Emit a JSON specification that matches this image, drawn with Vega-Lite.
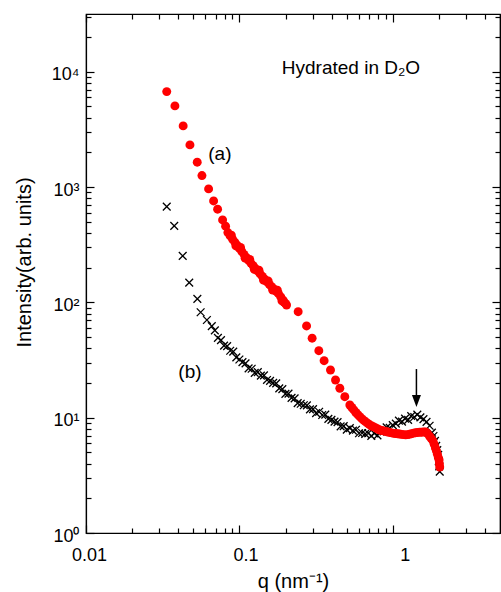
{
  "$schema": "https://vega.github.io/schema/vega-lite/v6.json",
  "width": 414,
  "height": 519,
  "autosize": "none",
  "padding": {"left": 86, "top": 14, "right": 1, "bottom": 59},
  "background": "white",
  "config": {
    "view": {"stroke": "black", "strokeWidth": 1.2},
    "font": "Liberation Sans",
    "axis": {
      "domainColor": "black", "domainWidth": 1.2, "tickColor": "black", "tickWidth": 1.2,
      "labelColor": "black", "labelFontSize": 18, "labelFont": "Liberation Sans",
      "titleColor": "black", "titleFontSize": 20, "titleFontWeight": "normal", "titleFont": "Liberation Sans",
      "grid": false, "labelOverlap": false, "labelFlush": false, "labelBound": false
    }
  },
  "datasets": {
    "a": [
      {"q":0.0336,"I":6717},{"q":0.0380,"I":5050},{"q":0.0430,"I":3388},{"q":0.0476,"I":2318},{"q":0.0531,"I":1641},
      {"q":0.0570,"I":1256},{"q":0.0630,"I":963},{"q":0.0679,"I":757},{"q":0.0721,"I":642},{"q":0.0777,"I":518},
      {"q":0.08128,"I":457.1},{"q":0.08414,"I":402.7},{"q":0.08710,"I":376.7},{"q":0.08861,"I":382.8},{"q":0.09016,"I":354.0},
      {"q":0.09333,"I":332.7},{"q":0.09495,"I":308.3},{"q":0.09661,"I":312.6},{"q":0.1,"I":294.4},{"q":0.10174,"I":299.2},
      {"q":0.10351,"I":277.3},{"q":0.10715,"I":260.6},{"q":0.10902,"I":241.5},{"q":0.11092,"I":245.5},{"q":0.11482,"I":231.2},
      {"q":0.11682,"I":235.5},{"q":0.11885,"I":218.8},{"q":0.12303,"I":207.5},{"q":0.12516,"I":192.8},{"q":0.12735,"I":196.3},
      {"q":0.13183,"I":186.2},{"q":0.13413,"I":189.7},{"q":0.13646,"I":176.6},{"q":0.14125,"I":167.5},{"q":0.14371,"I":155.6},
      {"q":0.14622,"I":158.9},{"q":0.15136,"I":150.7},{"q":0.15396,"I":153.5},{"q":0.15668,"I":143.2},{"q":0.16218,"I":136.8},
      {"q":0.16501,"I":127.6},{"q":0.16788,"I":130.6},{"q":0.17378,"I":124.7},{"q":0.17681,"I":127.6},{"q":0.17989,"I":118.9},
      {"q":0.18621,"I":111.4},{"q":0.18943,"I":103.0},{"q":0.19275,"I":104.5},{"q":0.195,"I":100.7},{"q":0.19953,"I":97.9},
      {"q":0.2030,"I":94.8},
      {"q":0.2416,"I":83.0},{"q":0.2741,"I":62.4},{"q":0.2980,"I":48.9},{"q":0.3295,"I":38.1},{"q":0.3567,"I":31.2},
      {"q":0.3926,"I":25.9},{"q":0.4233,"I":21.2},{"q":0.4516,"I":18.0},{"q":0.4867,"I":15.2},{"q":0.5248,"I":12.88},
      {"q":0.5408,"I":12.25},{"q":0.5572,"I":11.67},{"q":0.5741,"I":11.09},{"q":0.5916,"I":10.64},{"q":0.6095,"I":10.21},
      {"q":0.6281,"I":9.795},{"q":0.6471,"I":9.462},{"q":0.6668,"I":9.183},{"q":0.6871,"I":8.913},{"q":0.7079,"I":8.650},
      {"q":0.7295,"I":8.472},{"q":0.7516,"I":8.318},{"q":0.7745,"I":8.147},{"q":0.7980,"I":7.980},{"q":0.8222,"I":7.816},
      {"q":0.8472,"I":7.745},{"q":0.8730,"I":7.674},{"q":0.8995,"I":7.603},{"q":0.9268,"I":7.516},{"q":0.9550,"I":7.447},
      {"q":0.9840,"I":7.379},{"q":1.0139,"I":7.311},{"q":1.0447,"I":7.278},{"q":1.0765,"I":7.244},{"q":1.1092,"I":7.211},
      {"q":1.1429,"I":7.161},{"q":1.1776,"I":7.129},{"q":1.2134,"I":7.096},{"q":1.2503,"I":7.129},{"q":1.2882,"I":7.194},
      {"q":1.3274,"I":7.261},{"q":1.3677,"I":7.345},{"q":1.4093,"I":7.413},{"q":1.4521,"I":7.447},{"q":1.4962,"I":7.464},
      {"q":1.5417,"I":7.482},{"q":1.5885,"I":7.499},{"q":1.6368,"I":7.516},{"q":1.6866,"I":7.278},{"q":1.7378,"I":6.902},
      {"q":1.7783,"I":6.622},{"q":1.8281,"I":6.295},{"q":1.8621,"I":5.875},{"q":1.8967,"I":5.458},{"q":1.9275,"I":5.140},
      {"q":1.9543,"I":4.808},{"q":1.9815,"I":4.508},{"q":2.0045,"I":4.295},{"q":2.0137,"I":3.981},{"q":2.0230,"I":3.733}
    ],
    "b": [
      {"q":0.0336,"I":676},{"q":0.0376,"I":460},{"q":0.0427,"I":252.6},{"q":0.0471,"I":148.2},{"q":0.0532,"I":107.0},
      {"q":0.0559,"I":82.0},{"q":0.0614,"I":70.3},
      {"q":0.06607,"I":62.23},{"q":0.06918,"I":57.15},{"q":0.07244,"I":49.20},{"q":0.07586,"I":46.99},{"q":0.07943,"I":42.07},
      {"q":0.08318,"I":41.78},{"q":0.08710,"I":38.02},{"q":0.09120,"I":37.33},{"q":0.09550,"I":33.34},{"q":0.1,"I":31.92},
      {"q":0.10471,"I":30.34},{"q":0.10965,"I":29.58},{"q":0.11482,"I":26.73},{"q":0.12023,"I":26.55},{"q":0.12589,"I":24.43},
      {"q":0.13183,"I":24.83},{"q":0.13804,"I":23.17},{"q":0.14454,"I":23.23},{"q":0.15136,"I":21.23},{"q":0.15849,"I":20.84},
      {"q":0.16596,"I":20.04},{"q":0.17378,"I":19.86},{"q":0.18197,"I":17.95},{"q":0.19055,"I":17.70},{"q":0.19953,"I":16.07},
      {"q":0.20893,"I":16.14},{"q":0.21878,"I":14.86},{"q":0.22909,"I":14.69},{"q":0.23988,"I":13.37},{"q":0.25119,"I":13.21},
      {"q":0.26303,"I":12.82},{"q":0.27542,"I":12.79},{"q":0.28840,"I":11.80},{"q":0.30200,"I":11.86},{"q":0.31623,"I":10.96},
      {"q":0.33113,"I":11.25},{"q":0.34674,"I":10.54},{"q":0.36308,"I":10.62},{"q":0.38019,"I":9.750},{"q":0.39811,"I":9.572},
      {"q":0.41687,"I":9.247},{"q":0.43652,"I":9.162},{"q":0.45709,"I":8.414},{"q":0.47863,"I":8.433},{"q":0.50119,"I":7.870},
      {"q":0.52481,"I":8.128},{"q":0.54954,"I":7.709},{"q":0.57544,"I":7.852},{"q":0.60256,"I":7.328},{"q":0.63096,"I":7.362},
      {"q":0.66069,"I":7.244},{"q":0.69183,"I":7.328},{"q":0.72444,"I":6.950},{"q":0.75858,"I":7.295},{"q":0.79433,"I":7.031},
      {"q":0.83176,"I":7.568},{"q":0.87096,"I":7.603},{"q":0.91201,"I":8.241},{"q":0.95499,"I":8.147},{"q":1.0,"I":8.610},
      {"q":1.04713,"I":8.892},{"q":1.09648,"I":9.419},{"q":1.14815,"I":9.226},{"q":1.20226,"I":9.817},{"q":1.25893,"I":9.572},
      {"q":1.31826,"I":10.33},{"q":1.38038,"I":10.14},{"q":1.44544,"I":10.64},{"q":1.51356,"I":10.05},{"q":1.58489,"I":9.705},
      {"q":1.65959,"I":9.204},{"q":1.73780,"I":8.511},{"q":1.79887,"I":7.430},{"q":1.84077,"I":6.934},{"q":1.88365,"I":6.295},
      {"q":1.91867,"I":5.702},{"q":1.94984,"I":5.224},{"q":1.97697,"I":4.764},{"q":1.99526,"I":4.178},{"q":2.00909,"I":3.776},
      {"q":2.02302,"I":3.404}
    ],
    "note": [
      {"q":0.189,"I":10800,"text":"Hydrated in D₂O"}
    ],
    "labels": [
      {"q":0.0746,"I":1937,"text":"(a)"},
      {"q":0.0476,"I":24.9,"text":"(b)"}
    ],
    "arrow": [
      {"q":1.426,"top":26.4,"bottom":15.1,"tip":13.96}
    ]
  },
  "layer": [
    {
      "data": {"name": "b"},
      "mark": {"type": "point", "shape": "M-1,-1L1,1M-1,1L1,-1", "filled": false, "stroke": "black", "strokeWidth": 1.3, "size": 60, "opacity": 1},
      "encoding": {
        "x": {
          "field": "q", "type": "quantitative",
          "scale": {"type": "log", "domain": [0.01, 5], "nice": false},
          "axis": {
            "orient": "bottom",
            "values": [0.01,0.02,0.03,0.04,0.05,0.06,0.07,0.08,0.09,0.1,0.2,0.3,0.4,0.5,0.6,0.7,0.8,0.9,1,2,3,4],
            "labelExpr": "datum.value == 0.01 ? '0.01' : datum.value == 0.1 ? '0.1' : datum.value == 1 ? '1' : ''",
            "tickSize": {"condition": {"test": "datum.value == 0.01 || datum.value == 0.1 || datum.value == 1", "value": -8}, "value": -5},
            "labelOffset": {"condition": [{"test": "datum.value == 1", "value": 12}, {"test": "datum.value == 0.1", "value": 6}], "value": 3},
            "labelPadding": 21,
            "labelBaseline": "top",
            "title": "q (nm⁻¹)",
            "titlePadding": 4
          }
        },
        "y": {
          "field": "I", "type": "quantitative",
          "scale": {"type": "log", "domain": [1, 31623], "nice": false},
          "axis": {
            "orient": "left",
            "values": [1,2,3,4,5,6,7,8,9,10,20,30,40,50,60,70,80,90,100,200,300,400,500,600,700,800,900,1000,2000,3000,4000,5000,6000,7000,8000,9000,10000,20000,30000],
            "labelExpr": "datum.value == 1 ? '10⁰' : datum.value == 10 ? '10¹' : datum.value == 100 ? '10²' : datum.value == 1000 ? '10³' : datum.value == 10000 ? '10⁴' : ''",
            "tickSize": {"condition": {"test": "datum.value == 1 || datum.value == 10 || datum.value == 100 || datum.value == 1000 || datum.value == 10000", "value": -8}, "value": -5},
            "labelPadding": 15,
            "labelOffset": 3,
            "labelBaseline": "middle",
            "title": "Intensity(arb. units)",
            "titlePadding": 17,
            "titleY": 248
          }
        }
      }
    },
    {
      "data": {"name": "a"},
      "mark": {"type": "circle", "color": "#ff0000", "opacity": 1, "size": 80},
      "encoding": {
        "x": {
          "field": "q", "type": "quantitative",
          "axis": {
            "orient": "top", "labels": false, "title": null,
            "values": [0.01,0.02,0.03,0.04,0.05,0.06,0.07,0.08,0.09,0.1,0.2,0.3,0.4,0.5,0.6,0.7,0.8,0.9,1,2,3,4],
            "tickSize": {"condition": {"test": "datum.value == 0.01 || datum.value == 0.1 || datum.value == 1", "value": -8}, "value": -5}
          }
        },
        "y": {
          "field": "I", "type": "quantitative",
          "axis": {
            "orient": "right", "labels": false, "title": null,
            "values": [1,2,3,4,5,6,7,8,9,10,20,30,40,50,60,70,80,90,100,200,300,400,500,600,700,800,900,1000,2000,3000,4000,5000,6000,7000,8000,9000,10000,20000,30000],
            "tickSize": {"condition": {"test": "datum.value == 1 || datum.value == 10 || datum.value == 100 || datum.value == 1000 || datum.value == 10000", "value": -8}, "value": -5}
          }
        }
      }
    },
    {
      "data": {"name": "note"},
      "mark": {"type": "text", "fontSize": 19, "font": "Liberation Sans", "color": "black", "baseline": "middle", "align": "left"},
      "encoding": {
        "x": {"field": "q", "type": "quantitative", "axis": null},
        "y": {"field": "I", "type": "quantitative", "axis": null},
        "text": {"field": "text"}
      }
    },
    {
      "data": {"name": "labels"},
      "mark": {"type": "text", "fontSize": 19, "font": "Liberation Sans", "color": "black", "baseline": "middle", "align": "center"},
      "encoding": {
        "x": {"field": "q", "type": "quantitative", "axis": null},
        "y": {"field": "I", "type": "quantitative", "axis": null},
        "text": {"field": "text"}
      }
    },
    {
      "data": {"name": "arrow"},
      "mark": {"type": "rule", "color": "black", "strokeWidth": 1.5},
      "encoding": {
        "x": {"field": "q", "type": "quantitative", "axis": null},
        "y": {"field": "top", "type": "quantitative", "axis": null},
        "y2": {"field": "bottom"}
      }
    },
    {
      "data": {"name": "arrow"},
      "mark": {"type": "point", "shape": "M-0.75,-1L0.75,-1L0,1Z", "filled": true, "color": "black", "opacity": 1, "size": 144},
      "encoding": {
        "x": {"field": "q", "type": "quantitative", "axis": null},
        "y": {"field": "tip", "type": "quantitative", "axis": null}
      }
    }
  ],
  "resolve": {"axis": {"x": "independent", "y": "independent"}}
}
